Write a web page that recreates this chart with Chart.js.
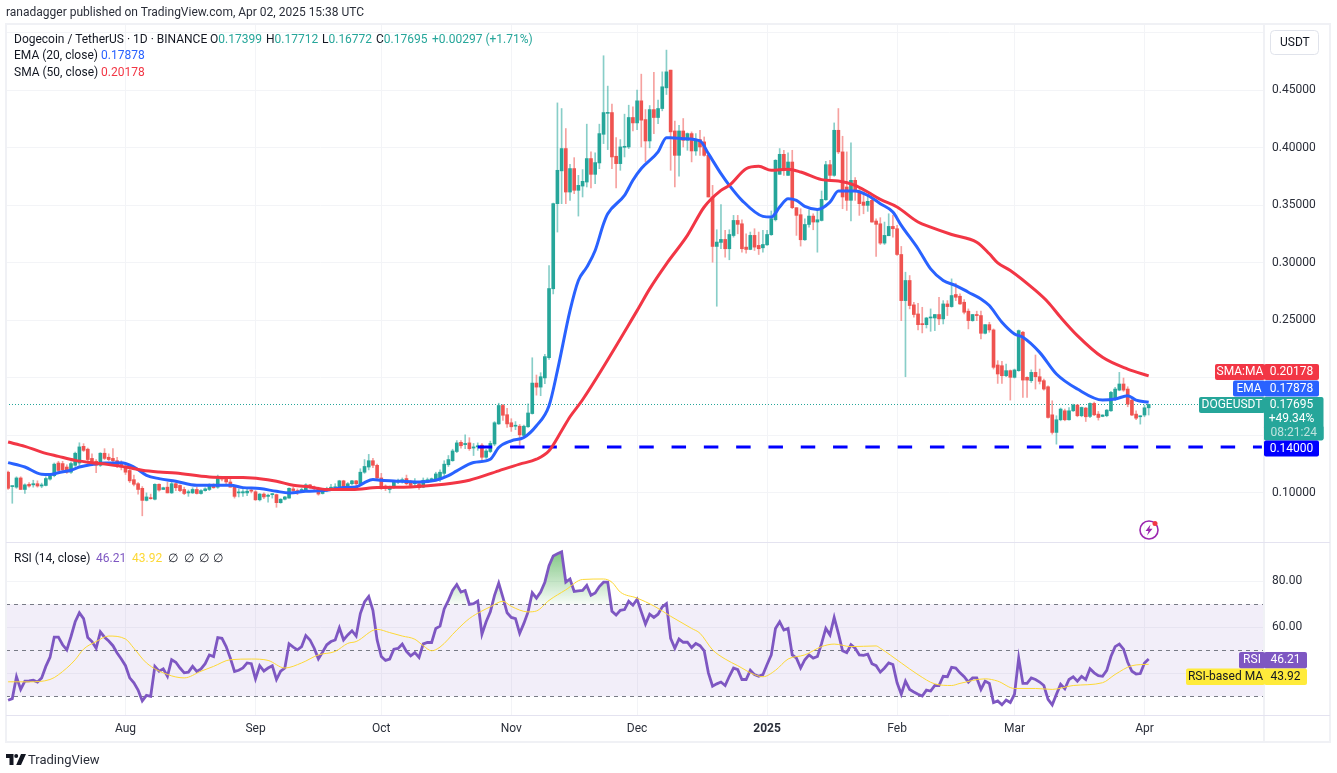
<!DOCTYPE html>
<html>
<head>
<meta charset="utf-8">
<title>DOGEUSDT</title>
<script src="https://cdn.jsdelivr.net/npm/chart.js@4"></script>
<style>
  html, body { margin: 0; padding: 0; background: #fff; }
  body { width: 1337px; height: 773px; position: relative; overflow: hidden; font-family: Roboto, sans-serif; font-size: 12px; color: #131722; }
  canvas { position: absolute; left: 0; top: 0; }
  .txt { position: absolute; white-space: pre; line-height: 16px; }
  .txt span { position: absolute; top: 0; }
  .up { color: #26a69a; }
  svg { position: absolute; }
</style>
</head>
<body>
<canvas id="myChart" width="1337" height="773"></canvas>

<div class="txt" style="left:6px;top:4px;color:#2a2e39">ranadagger published on TradingView.com, Apr 02, 2025 15:38 UTC</div>
<div class="txt" style="left:14px;top:31px">Dogecoin / TetherUS · 1D · BINANCE<span style="left:196px">O<b class="up" style="font-weight:400">0.17399</b></span><span style="left:252px">H<b class="up" style="font-weight:400">0.17712</b></span><span style="left:308px">L<b class="up" style="font-weight:400">0.16772</b></span><span style="left:362px">C<b class="up" style="font-weight:400">0.17695</b></span><span class="up" style="left:418px">+0.00297 (+1.71%)</span></div>
<div class="txt" style="left:14px;top:47px">EMA (20, close)<span style="left:87px;color:#2962ff">0.17878</span></div>
<div class="txt" style="left:14px;top:64px">SMA (50, close)<span style="left:87px;color:#f23645">0.20178</span></div>
<div class="txt" style="left:14px;top:550px">RSI (14, close)<span style="left:82px;color:#7e57c2">46.21</span><span style="left:118px;color:#fdd835">43.92</span><span style="left:154px">∅</span><span style="left:170px">∅</span><span style="left:185px">∅</span><span style="left:199px">∅</span></div>
<div class="txt" style="left:1280px;top:34px;font-size:12px">USDT</div>
<div class="txt" style="left:28px;top:752px;font-size:13px;color:#2a2e39">TradingView</div>

<svg style="left:1138px;top:519px" width="22" height="22" viewBox="0 0 22 22">
  <circle cx="11" cy="11" r="9" fill="none" stroke="#9c27b0" stroke-width="1.6"/>
  <path d="M12.5 5.5 L7.5 12 L10.5 12 L9 16.5 L14.5 9.8 L11.4 9.8 Z" fill="#9c27b0"/>
  <circle cx="17" cy="4.5" r="2.5" fill="#f23645"/>
</svg>
<svg style="left:6px;top:754px" width="20" height="12" viewBox="0 0 20 12">
  <path d="M0 0 H7.5 V11 H3.5 V4 H0 Z M15 0 H20 L15 11 H10.2 Z" fill="#131722"/>
  <circle cx="10.2" cy="2" r="2" fill="#131722"/>
</svg>

<script>
// Daily candles, 4 Jul 2024 to 2 Apr 2025
const opens = [
  .118,.1055,.105,.113,.103,.1075,.107,.108,.106,.1065,
  .112,.115,.126,.1255,.1225,.118,.124,.126,.1405,.138,
  .13,.1275,.124,.1345,.131,.13,.128,.126,.1225,.1195,
  .1115,.108,.104,.0935,.0955,.0945,.1075,.103,.105,.1,
  .108,.1065,.103,.1,.1,.103,.0995,.102,.103,.106,
  .105,.113,.112,.1095,.105,.1,.1,.1,.1025,.101,
  .094,.099,.097,.0985,.0985,.0915,.0945,.0955,.1035,.102,
  .102,.1025,.107,.105,.104,.0995,.102,.104,.1045,.1045,
  .1105,.105,.108,.1105,.108,.118,.1225,.128,.124,.113,
  .106,.103,.105,.1095,.11,.1125,.1095,.108,.108,.105,
  .1105,.1115,.1115,.1125,.117,.1245,.128,.136,.144,.142,
  .1435,.139,.14,.1415,.131,.136,.1425,.16,.176,.168,
  .161,.158,.158,.15,.1575,.169,.1955,.192,.2,.2176,
  .2775,.3515,.38,.3994,.3616,.382,.3631,.3668,.3703,.3907,
  .377,.3869,.4118,.43,.4307,.3927,.3863,.4005,.4008,.4264,
  .4217,.4409,.4246,.406,.4333,.4264,.4342,.4522,.4676,.4147,
  .3935,.4147,.4066,.4124,.3973,.4072,.4052,.3935,.3573,.3143,
  .3178,.3204,.3123,.3238,.3369,.334,.3137,.3117,.3239,.3152,
  .3131,.3157,.3245,.3375,.377,.3944,.3761,.3877,.348,.3419,
  .3201,.3334,.3407,.3355,.3369,.3549,.3854,.3761,.4153,.3965,
  .366,.3544,.3718,.3625,.3529,.35,.3544,.3364,.334,.3172,
  .3236,.3317,.3297,.3073,.2672,.2847,.2635,.2556,.2469,.2463,
  .2521,.2521,.2551,.2513,.2643,.262,.2725,.271,.2658,.258,
  .2498,.2551,.2542,.2388,.2463,.2417,.2112,.2106,.2019,.2063,
  .2005,.2063,.2397,.2005,.1976,.2048,.201,.1976,.1923,.1679,
  .1526,.1636,.1714,.1636,.1714,.1764,.1671,.1738,.1665,.1778,
  .1685,.1665,.1671,.1714,.1816,.1894,.1947,.1903,.1807,.1685,
  .1662,.1677,.17399
];
const highs = [
  .119,.106,.114,.114,.108,.109,.111,.1105,.1085,.114,
  .117,.126,.1275,.1275,.1245,.127,.1355,.1436,.1428,.139,
  .134,.129,.135,.1385,.134,.1385,.131,.128,.124,.121,
  .1155,.109,.1055,.1,.099,.108,.108,.105,.1095,.11,
  .109,.107,.105,.1025,.1045,.105,.103,.1045,.108,.108,
  .1155,.114,.1135,.1125,.106,.1035,.103,.1035,.103,.102,
  .0995,.1,.099,.0995,.099,.095,.097,.1045,.105,.1035,
  .104,.108,.1075,.106,.105,.103,.105,.1075,.108,.111,
  .111,.109,.111,.111,.121,.129,.1335,.13,.125,.117,
  .107,.106,.111,.112,.113,.1155,.111,.1125,.11,.113,
  .113,.113,.118,.12,.128,.1325,.138,.1455,.1455,.1505,
  .148,.143,.1435,.143,.138,.145,.162,.178,.177,.1735,
  .1645,.162,.1595,.159,.1775,.2175,.2025,.2045,.2205,.2977,
  .352,.4391,.4342,.4168,.3857,.3915,.3761,.3811,.4206,.3965,
  .3956,.4206,.4801,.4537,.438,.4089,.4072,.4293,.4371,.4357,
  .4502,.4641,.4333,.4368,.4656,.4415,.4661,.485,.4676,.4232,
  .4197,.4255,.413,.4139,.4124,.4153,.4095,.395,.3674,.3288,
  .3506,.3282,.3288,.3413,.3413,.3375,.3253,.3268,.3297,.3268,
  .3282,.3282,.3451,.3898,.3994,.3979,.3956,.3979,.348,.3471,
  .3384,.3462,.3427,.3471,.3625,.3883,.3892,.4217,.4342,.4101,
  .3965,.4043,.3741,.3654,.3616,.3587,.3573,.3384,.3393,.3355,
  .3427,.3413,.3326,.3143,.2919,.289,.2658,.2649,.2614,.2527,
  .26,.2551,.2701,.2672,.2672,.2861,.2823,.273,.2681,.26,
  .2551,.258,.258,.2463,.2484,.2426,.215,.2144,.2121,.2069,
  .2077,.2417,.2405,.201,.207,.2199,.2077,.199,.1932,.1801,
  .1671,.1738,.1729,.1743,.1772,.1768,.1747,.1743,.1784,.179,
  .1708,.168,.1725,.1883,.1918,.2048,.1999,.1923,.1815,.1714,
  .1671,.1764,.17712
];
const lows = [
  .103,.091,.104,.103,.0995,.105,.105,.105,.1045,.106,
  .111,.114,.118,.118,.117,.117,.123,.124,.136,.126,
  .124,.1175,.123,.129,.128,.127,.122,.12,.116,.109,
  .106,.099,.0801,.093,.0945,.094,.1015,.103,.1,.0995,
  .102,.101,.0985,.097,.0995,.099,.099,.1015,.102,.104,
  .104,.1105,.1075,.105,.0955,.0965,.097,.0975,.1,.0935,
  .093,.095,.092,.0955,.0875,.091,.094,.0955,.101,.0985,
  .101,.1015,.104,.102,.098,.099,.101,.103,.1035,.104,
  .104,.103,.107,.105,.107,.117,.12,.122,.112,.103,
  .102,.1,.104,.108,.1085,.107,.105,.1055,.103,.1045,
  .11,.1105,.111,.11,.115,.123,.1275,.135,.139,.1385,
  .137,.1325,.137,.127,.13,.135,.141,.1595,.163,.157,
  .1535,.155,.1415,.149,.157,.1685,.185,.1845,.195,.216,
  .273,.3268,.3515,.3515,.3544,.3602,.3407,.3573,.366,.3651,
  .3689,.3819,.4037,.3985,.3819,.3651,.3805,.3921,.3994,.4147,
  .4159,.4008,.3878,.4,.4124,.4211,.4322,.4464,.3805,.366,
  .3753,.4008,.3979,.3878,.3935,.3935,.3927,.3573,.3006,.2623,
  .3123,.305,.3027,.3224,.3253,.3093,.3085,.3114,.3108,.3073,
  .3093,.3152,.3239,.3364,.377,.3761,.3761,.3471,.3239,.3146,
  .3195,.3311,.3288,.3093,.3364,.3544,.3712,.3753,.395,.3471,
  .3456,.3364,.3544,.3413,.3427,.3448,.3355,.3056,.316,.316,
  .3236,.3224,.3064,.2498,.201,.26,.2527,.2417,.2391,.2434,
  .2405,.2411,.2463,.2469,.2542,.2614,.2672,.2638,.2556,.2426,
  .2492,.2498,.2339,.2382,.2397,.2077,.1952,.1952,.201,.1807,
  .1999,.2057,.183,.183,.196,.1903,.1947,.1894,.165,.1511,
  .1424,.1627,.1627,.1633,.1708,.1662,.1662,.1621,.1655,.1671,
  .1633,.1662,.1662,.1708,.1801,.1888,.1883,.1749,.1671,.1636,
  .1598,.1662,.16772
];
const closes = [
  .104,.106,.113,.103,.107,.106,.108,.106,.107,.1125,
  .115,.125,.1195,.12,.118,.1255,.1345,.14,.137,.129,
  .1255,.124,.1345,.13,.129,.128,.124,.1225,.118,.1105,
  .1075,.103,.0935,.0965,.095,.1075,.1025,.1045,.1,.108,
  .1045,.102,.0995,.101,.103,.0995,.102,.1035,.1065,.1045,
  .113,.112,.1095,.105,.097,.1005,.101,.1015,.1015,.094,
  .099,.0965,.098,.099,.0915,.0945,.0965,.104,.102,.101,
  .103,.107,.105,.104,.099,.102,.104,.105,.105,.1105,
  .105,.108,.1105,.108,.118,.123,.128,.124,.113,.104,
  .104,.105,.11,.1105,.1115,.108,.1065,.11,.1045,.111,
  .1115,.112,.1165,.118,.125,.129,.1365,.1435,.141,.143,
  .1385,.14,.141,.131,.1365,.143,.161,.176,.1675,.16,
  .1575,.1585,.1505,.158,.1695,.1955,.192,.201,.2185,.2777,
  .3515,.3805,.3994,.3616,.382,.3631,.3674,.3709,.3907,.377,
  .3872,.4124,.4307,.4307,.3921,.3863,.4008,.4012,.4264,.4217,
  .4409,.4241,.406,.4333,.4264,.4342,.4531,.4661,.4139,.3935,
  .4147,.4066,.4124,.3973,.4066,.4008,.3935,.3573,.3143,.3181,
  .3204,.3123,.3247,.3369,.3335,.3123,.3117,.3239,.3137,.3123,
  .316,.3247,.3384,.3892,.3944,.3819,.3877,.348,.3413,.3201,
  .3334,.3407,.3355,.3375,.3552,.3854,.3761,.4153,.3965,.3573,
  .3544,.3718,.3625,.3515,.35,.3535,.3355,.3335,.3172,.3239,
  .3317,.3297,.3073,.2672,.2847,.2629,.2551,.2463,.2463,.2521,
  .2527,.2551,.2513,.2643,.262,.2716,.2701,.2643,.2571,.2498,
  .2551,.2542,.2388,.2463,.2417,.2092,.2034,.2019,.2063,.2005,
  .2069,.2411,.1981,.1981,.2048,.201,.197,.1903,.1656,.1526,
  .1636,.1729,.1636,.1714,.1764,.1671,.1743,.1662,.1778,.1679,
  .1656,.1677,.172,.1874,.1903,.1947,.1894,.1772,.1677,.165,
  .1665,.174,.17695
];

// moving averages, read at the candle index in the *_days list
const ema_days = [0,4,8,10,12,15,17,19,21,24,27,30,33,36,40,45,50,53,56,60,64,67,71,76,80,83,85,87,89,92,98,102,105,107,111,115,117,120,123,126,129,131,134,136,138,140,142,143,147,149,151,155,157,158,161,165,167,170,172,175,180,182,184,186,188,190,193,196,198,202,205,208,211,213,217,220,223,226,229,232,234,237,240,242,246,250,255,261,264,267,269,272];
const ema_values = [.1263,.1225,.1162,.116,.1176,.1197,.1225,.124,.1254,.126,.1263,.1225,.1153,.1124,.1101,.1066,.1066,.1066,.1046,.1038,.1014,.1,.1014,.1023,.1046,.1052,.109,.1116,.111,.1104,.1095,.111,.115,.1192,.1264,.1293,.1395,.1453,.1482,.1584,.1758,.2063,.2585,.2847,.2963,.3108,.334,.3427,.3587,.3718,.382,.3965,.4089,.4089,.408,.406,.395,.3776,.3674,.3544,.3404,.3398,.3485,.3558,.3544,.3491,.3465,.3529,.3625,.3625,.3587,.3515,.3442,.3326,.3123,.2948,.2847,.2803,.2745,.2687,.2629,.2484,.2382,.2353,.2222,.2034,.1903,.1807,.1816,.1845,.1807,.17878];
const sma_days = [0,4,8,12,16,20,24,28,32,36,40,48,56,60,64,68,72,76,82,88,96,104,110,117,122,126,129,132,134,137,150,153,157,162,166,170,172,176,179,182,186,189,194,198,202,205,208,212,217,220,225,231,234,236,239,245,248,251,255,261,267,272];
const sma_values = [.1442,.1405,.1355,.1318,.1283,.1263,.1246,.1225,.1197,.1182,.1173,.1139,.1133,.1124,.1101,.1066,.1052,.1029,.1029,.1046,.1052,.1075,.111,.1192,.125,.1293,.1366,.154,.1662,.181,.2585,.2774,.2992,.3239,.3486,.3631,.3674,.3819,.384,.3805,.3814,.379,.3724,.3712,.3674,.3616,.3552,.3486,.3355,.3311,.3247,.318,.3079,.3,.2934,.276,.2658,.2527,.2368,.2179,.2077,.20178];

const rsi_values = [
  28.3,29,38.5,33,36.6,36.7,37,36.2,38,43,
  47,55.7,55.7,52.4,50.2,56,62.4,66.3,63.8,55.5,
  53.8,50.9,58,55.7,54,52,48.8,46.2,43.3,38,
  35.9,32.7,28,30.4,30,43,40.9,41.9,38.7,45.9,
  44.8,42.3,40.2,40.5,43,40.8,41.9,44.2,48,47.3,
  55.5,55.2,51.6,46.6,40.8,41.3,42.3,44.5,44.2,37.6,
  43.3,41,42.3,43.3,37.3,40.9,42.3,52.8,51.4,50.2,
  51.6,56.4,54.5,50.9,46.3,49.2,52.4,53.8,54.5,59.8,
  54.5,56.7,58.5,56.2,66,71,73.4,67.4,54.5,47.3,
  45.6,46.2,50.5,50.8,52.7,49.5,47.6,49,46.9,52.8,
  53.4,53.4,59.5,60.5,68,71.7,76,78.6,75.3,76,
  70,70.3,71.4,57,62.4,66.7,73.9,79.2,73,66.3,
  64.3,63.8,57.4,61.7,66.7,75,72.7,75.3,79.6,86.8,
  91,92,92.8,79.6,81,75.6,75.8,76,78.2,73.9,
  74.9,77.7,79.6,79.6,67,65.3,67.4,67.7,71.3,69.6,
  72.2,66.7,61.4,65.7,64.3,65.7,68.9,70.3,55.2,50.9,
  54.9,53.5,53.5,51.2,53,52,49.8,40.2,34.4,35.4,
  36.2,34.7,38.7,42.3,41.6,37.3,37.3,41.3,39.4,38.7,
  39.4,43.8,48,59.5,62.4,58.8,59.5,48,46.6,42.3,
  45.9,48,46.6,47.3,53,59.5,56.7,64.3,57.4,49.8,
  49,52.4,50.9,48,47.8,48.3,44.2,43.3,40.5,42.3,
  44.5,43.8,35.9,30.9,36.6,33,31.9,30.9,30.1,32.7,
  32.3,34.7,34.7,38.7,38.5,42.6,42.3,40.2,38.5,36.2,
  38,38,33,36.6,35.6,27.3,28,26.3,28.4,27.3,
  30.9,46.6,35.6,35.6,38,37.3,36.2,34.7,28.7,26.3,
  30.9,35.2,33.3,37.3,38.5,36.6,38.7,37.3,42,40.2,
  39,38.7,41.3,47.3,51.6,52.7,50.5,44.8,40.9,39.7,
  39.9,44.5,46.21
];
const rsi_ma_days = [0,5,10,14,16,18,21,24,28,30,33,38,42,46,49,53,58,62,66,70,74,78,81,83,88,91,94,97,99,101,103,107,110,113,115,118,120,124,126,129,133,137,142,144,146,150,154,158,163,165,168,171,174,178,180,183,186,190,194,197,201,207,208,213,217,221,225,227,233,236,240,245,249,254,261,264,268,272];
const rsi_ma_values = [36.3,36.3,37.3,42.3,45.9,50.5,53.8,56.2,54.9,50.9,44.5,39.5,38,40.9,43,45.9,46.2,45.6,42.3,44.5,48,49.5,53,53.8,59.1,57.7,56.2,54.8,52,49.8,51.4,58.8,63.8,67.1,68.9,71.3,69.1,66.7,67.1,71.7,76.3,80.8,81,79.6,75.3,72.7,69.3,64.8,59.5,57.4,50.2,46.2,43.3,39.4,38.5,41.3,46.2,48,51.6,52.7,51.6,51.9,50.9,44.5,39.4,35.4,34.7,35.6,37.6,36.6,33.4,33.4,33,34.7,35.9,39.5,43.3,43.92];

// support line drawn on the chart
const support_level = 0.14;
const support_days = [112, 299];

const price_ticks = [.1,.15,.2,.25,.3,.35,.4,.45,.5];
const price_hidden = [.15,.2,.5];
const rsi_ticks = [40,60,80];
const month_days = [28,59,89,120,150,181,212,240,271];
const month_names = ['Aug','Sep','Oct','Nov','Dec','2025','Feb','Mar','Apr'];

// one category a day, running past the last candle to leave the empty right side
const labels = [];
for (let d = 0; d < 300; d++) {
    labels.push(new Date(Date.UTC(2024, 6, 4 + d)).toISOString().slice(0, 10));
}

const green = '#26a69a';
const red = '#ef5350';

function candle_color(i, alpha) {
    const base = closes[i] >= opens[i] ? '38,166,154' : '239,83,80';
    return 'rgba(' + base + ',' + alpha + ')';
}

function day_points(days, values) {
    return days.map((d, i) => ({ x: labels[d], y: values[i] }));
}

let canvas = document.getElementById('myChart');
let overbought = canvas.getContext('2d').createLinearGradient(0, 548, 0, 606);
overbought.addColorStop(0, 'rgba(76,175,80,0.75)');
overbought.addColorStop(1, 'rgba(76,175,80,0.02)');

function tag(ctx, x, y, w, h, fill, color, text) {
    ctx.fillStyle = fill;
    ctx.beginPath();
    ctx.roundRect(x, y, w, h, 2);
    ctx.fill();
    ctx.fillStyle = color;
    ctx.font = '12px Roboto';
    ctx.textAlign = 'center';
    ctx.textBaseline = 'middle';
    ctx.fillText(text, x + w / 2, y + h / 2);
}

const decor = {
    id: 'decor',
    beforeDatasetsDraw(chart) {
        const { ctx, chartArea: a, scales } = chart;
        const r = scales.yRsi;
        ctx.save();
        ctx.fillStyle = 'rgba(126,87,194,0.1)';
        ctx.fillRect(a.left, r.getPixelForValue(70), a.width, r.getPixelForValue(30) - r.getPixelForValue(70));
        ctx.strokeStyle = '#787b86';
        ctx.lineWidth = 1;
        ctx.setLineDash([4, 4]);
        [70, 50, 30].forEach(v => {
            const y = Math.round(r.getPixelForValue(v)) + 0.5;
            ctx.beginPath();
            ctx.moveTo(a.left, y);
            ctx.lineTo(a.right, y);
            ctx.stroke();
        });
        const py = Math.round(scales.y.getPixelForValue(closes[closes.length - 1])) + 0.5;
        ctx.strokeStyle = green;
        ctx.setLineDash([1, 2]);
        ctx.beginPath();
        ctx.moveTo(a.left, py);
        ctx.lineTo(a.right, py);
        ctx.stroke();
        ctx.restore();
    },
    afterDraw(chart) {
        const { ctx, chartArea: a } = chart;
        ctx.save();
        // frame and pane separators
        ctx.strokeStyle = '#f0f1f5';
        ctx.lineWidth = 2;
        ctx.strokeRect(a.left, a.top, 1330 - a.left, 742 - a.top);
        ctx.beginPath();
        ctx.moveTo(a.right, a.top);
        ctx.lineTo(a.right, 742);
        ctx.stroke();
        ctx.strokeStyle = '#e4e3f0';
        ctx.lineWidth = 1;
        ctx.beginPath();
        ctx.moveTo(a.left, 542.5);
        ctx.lineTo(1330, 542.5);
        ctx.moveTo(a.left, 715.5);
        ctx.lineTo(a.right, 715.5);
        ctx.moveTo(a.right, 715.5);
        ctx.lineTo(1330, 715.5);
        ctx.stroke();
        // currency button
        ctx.strokeStyle = '#e0e3eb';
        ctx.beginPath();
        ctx.roundRect(1270.5, 30.5, 48, 24, 4);
        ctx.stroke();

        tag(ctx, 1215, 364, 50, 16, '#f23645', '#fff', 'SMA:MA');
        tag(ctx, 1264, 364, 55, 16, '#f23645', '#fff', '0.20178');
        tag(ctx, 1233, 380.5, 32, 16, '#2962ff', '#fff', 'EMA');
        tag(ctx, 1264, 380.5, 55, 16, '#2962ff', '#fff', '0.17878');
        tag(ctx, 1199, 397, 66, 16, green, '#fff', 'DOGEUSDT');
        tag(ctx, 1264, 397, 59.5, 43, green, '#fff', '');
        tag(ctx, 1264, 397, 55, 15, green, '#fff', '0.17695');
        tag(ctx, 1264, 411.5, 55, 15, green, '#fff', '+49.34%');
        tag(ctx, 1264, 425.5, 59.5, 15, green, '#bfe3df', '08:21:24');
        tag(ctx, 1264, 440.5, 55, 16, '#0000ff', '#fff', '0.14000');
        tag(ctx, 1239, 652, 26, 16.5, '#7e57c2', '#fff', 'RSI');
        tag(ctx, 1264, 652, 43, 16.5, '#7e57c2', '#fff', '46.21');
        tag(ctx, 1186, 668.5, 79, 16.5, '#ffeb3b', '#131722', 'RSI-based MA');
        tag(ctx, 1264, 668.5, 43, 16.5, '#ffeb3b', '#131722', '43.92');
        ctx.restore();
    }
};

const data = {
    labels: labels,
    datasets: [
        {
            type: 'line', label: 'EMA (20, close)', yAxisID: 'y', order: 1,
            data: day_points(ema_days, ema_values),
            borderColor: '#2962ff', borderWidth: 3, pointRadius: 0, cubicInterpolationMode: 'monotone'
        },
        {
            type: 'line', label: 'SMA (50, close)', yAxisID: 'y', order: 0,
            data: day_points(sma_days, sma_values),
            borderColor: '#f23645', borderWidth: 3, pointRadius: 0, cubicInterpolationMode: 'monotone'
        },
        {
            type: 'line', label: 'Support', yAxisID: 'y', order: 1,
            data: day_points(support_days, [support_level, support_level]),
            borderColor: '#0000ff', borderWidth: 3, borderDash: [14.5, 17.8], pointRadius: 0
        },
        {
            type: 'bar', label: 'Body', yAxisID: 'y', order: 2,
            data: opens.map((o, i) => [o, closes[i]]),
            backgroundColor: c => candle_color(c.dataIndex, 1),
            barThickness: 3, minBarLength: 1, grouped: false
        },
        {
            type: 'bar', label: 'Wick', yAxisID: 'y', order: 3,
            data: lows.map((l, i) => [l, highs[i]]),
            backgroundColor: c => candle_color(c.dataIndex, 0.55),
            barThickness: 1, grouped: false
        },
        {
            type: 'line', label: 'RSI', yAxisID: 'yRsi', order: 1,
            data: rsi_values.map((v, i) => ({ x: labels[i], y: v })),
            borderColor: '#7e57c2', borderWidth: 2.8, pointRadius: 0,
            fill: { target: { value: 70 }, above: overbought, below: 'rgba(0,0,0,0)' }
        },
        {
            type: 'line', label: 'RSI-based MA', yAxisID: 'yRsi', order: 0,
            data: day_points(rsi_ma_days, rsi_ma_values),
            borderColor: '#fdd835', borderWidth: 1, pointRadius: 0, cubicInterpolationMode: 'monotone'
        }
    ]
};

const tick_font = { family: 'Roboto', size: 12 };
const grid_color = '#f3f4f7';

const options = {
    responsive: false,
    animation: false,
    layout: { padding: { left: 6, right: 7, top: 24, bottom: 31 } },
    plugins: { legend: { display: false }, tooltip: { enabled: false } },
    scales: {
        x: {
            type: 'category',
            offset: true,
            grid: { color: grid_color, offset: false, drawTicks: false },
            border: { display: false },
            afterBuildTicks: s => { s.ticks = month_days.map(d => ({ value: d })); },
            afterFit: s => { s.height = 27; },
            ticks: {
                autoSkip: false, maxRotation: 0, padding: 7, color: '#2a2e39',
                font: c => (c.tick && c.tick.value === 181 ? { family: 'Roboto', size: 12, weight: 'bold' } : tick_font),
                callback: v => month_names[month_days.indexOf(v)]
            }
        },
        y: {
            position: 'right', stack: 'panes', stackWeight: 519, weight: 0,
            min: 0.05645, max: 0.5077,
            grid: { color: grid_color, drawTicks: false },
            border: { display: false },
            afterBuildTicks: s => { s.ticks = price_ticks.map(v => ({ value: v })); },
            afterFit: s => { s.width = 66; },
            ticks: {
                autoSkip: false, padding: 8, color: '#2a2e39', font: tick_font,
                callback: v => (price_hidden.includes(v) ? '' : v.toFixed(5))
            }
        },
        yRsi: {
            position: 'right', stack: 'panes', stackWeight: 172, weight: 1,
            min: 21.87, max: 96.65,
            grid: { color: grid_color, drawTicks: false },
            border: { display: false },
            afterBuildTicks: s => { s.ticks = rsi_ticks.map(v => ({ value: v })); },
            afterFit: s => { s.width = 66; },
            ticks: {
                autoSkip: false, padding: 8, color: '#2a2e39', font: tick_font,
                callback: v => (v === 40 ? '' : v.toFixed(2))
            }
        }
    }
};

const chart = new Chart(canvas, { type: 'bar', data: data, options: options, plugins: [decor] });
</script>
</body>
</html>
